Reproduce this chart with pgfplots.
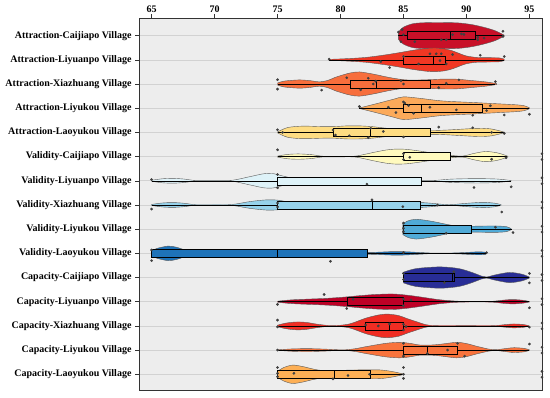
\documentclass[border=0pt]{standalone}
\usepackage{fontspec}
\setmainfont{Liberation Serif}
\usepackage{pgfplots}
\pgfplotsset{compat=1.18}
\usepgfplotslibrary{fillbetween,statistics}
\definecolor{c0}{RGB}{200,16,40}
\definecolor{c1}{RGB}{240,55,35}
\definecolor{c2}{RGB}{247,110,60}
\definecolor{c3}{RGB}{252,170,90}
\definecolor{c4}{RGB}{254,220,130}
\definecolor{c5}{RGB}{255,250,190}
\definecolor{c6}{RGB}{222,242,248}
\definecolor{c7}{RGB}{150,210,235}
\definecolor{c8}{RGB}{80,170,215}
\definecolor{c9}{RGB}{30,115,185}
\definecolor{c10}{RGB}{40,45,150}
\definecolor{c11}{RGB}{190,0,38}
\definecolor{c12}{RGB}{240,45,35}
\definecolor{c13}{RGB}{248,115,60}
\definecolor{c14}{RGB}{253,175,85}
\newcommand{\violin}[3]{%
 \addplot[draw=none, smooth, name path=u#1] table[x=v, y expr={#1+\thisrow{w}}, row sep=\\] {#3};
 \addplot[draw=none, smooth, name path=l#1] table[x=v, y expr={#1-\thisrow{w}}, row sep=\\] {#3};
 \addplot[fill=#2, draw=gray!70!black, line width=0.4pt] fill between[of=u#1 and l#1];
}
\newcommand{\bx}[7]{%
 \addplot[fill=#2, draw=black, line width=0.5pt, boxplot prepared={draw position=#1, lower whisker=#3, lower quartile=#4, median=#5, upper quartile=#6, upper whisker=#7, box extend=0.33, whisker extend=0}] coordinates {};
}
\begin{document}
\begin{tikzpicture}
\begin{axis}[
 width=403pt, height=372pt, scale only axis,
 xmin=64, xmax=96, ymin=0.35, ymax=15.73,
 xtick={65,70,75,80,85,90,95},
 xtick pos=right, xticklabel pos=right,
 ytick={1,...,15}, ytick pos=left,
 yticklabels={Capacity-Laoyukou Village,Capacity-Liyukou Village,Capacity-Xiazhuang Village,Capacity-Liyuanpo Village,Capacity-Caijiapo Village,Validity-Laoyukou Village,Validity-Liyukou Village,Validity-Xiazhuang Village,Validity-Liyuanpo Village,Validity-Caijiapo Village,Attraction-Laoyukou Village,Attraction-Liyukou Village,Attraction-Xiazhuang Village,Attraction-Liyuanpo Village,Attraction-Caijiapo Village},
 tick align=outside, major tick length=4pt,
 xticklabel style={inner sep=1pt},
 tick style={draw=black!80, line width=0.5pt},
 tick label style={font=\bfseries\fontsize{10}{12}\selectfont},
 /pgf/number format/assume math mode=true,
 ymajorgrids, grid style={draw=gray!35, line width=0.6pt},
 axis background/.style={fill=black!7},
 axis line style={draw=black!80, line width=0.6pt},
 boxplot/draw direction=x,
 clip=false,
]
% ---------------- violins ----------------
\violin{15}{c0}{v w\\ 84.6 0.15\\ 85.0 0.35\\ 85.8 0.50\\ 87.0 0.54\\ 88.5 0.54\\ 89.5 0.52\\ 90.5 0.45\\ 91.5 0.33\\ 92.3 0.2\\ 93.0 0.02\\}
\violin{14}{c1}{v w\\ 79.1 0.02\\ 80.5 0.05\\ 82.0 0.1\\ 83.5 0.2\\ 84.7 0.3\\ 85.8 0.4\\ 86.8 0.47\\ 87.5 0.49\\ 88.3 0.45\\ 88.9 0.37\\ 89.5 0.25\\ 90.0 0.16\\ 90.8 0.1\\ 91.8 0.09\\ 92.6 0.08\\ 93.0 0.03\\}
\violin{13}{c2}{v w\\ 75.0 0.04\\ 75.5 0.12\\ 76.7 0.17\\ 77.6 0.14\\ 78.3 0.09\\ 79.0 0.15\\ 79.6 0.28\\ 80.7 0.45\\ 81.5 0.5\\ 82.6 0.41\\ 83.5 0.31\\ 84.2 0.24\\ 85.2 0.17\\ 86.5 0.17\\ 87.9 0.2\\ 89.2 0.2\\ 90.5 0.14\\ 91.5 0.09\\ 92.4 0.02\\}
\violin{12}{c3}{v w\\ 81.5 0.01\\ 82.8 0.18\\ 84.2 0.37\\ 85.0 0.47\\ 86.3 0.41\\ 88.1 0.3\\ 90.8 0.23\\ 92.6 0.18\\ 94.0 0.14\\ 94.6 0.1\\ 95.0 0.02\\}
\violin{11}{c4}{v w\\ 75.0 0.02\\ 75.8 0.2\\ 77.0 0.26\\ 78.5 0.24\\ 79.5 0.24\\ 80.5 0.27\\ 81.5 0.27\\ 82.5 0.24\\ 83.5 0.18\\ 84.5 0.13\\ 85.5 0.09\\ 86.5 0.08\\ 87.5 0.08\\ 88.5 0.1\\ 89.5 0.13\\ 90.5 0.16\\ 91.3 0.17\\ 92.0 0.14\\ 92.6 0.07\\ 93.0 0.01\\}
\violin{10}{c5}{v w\\ 75.0 0.02\\ 75.8 0.09\\ 76.7 0.11\\ 77.7 0.08\\ 78.6 0.015\\ 80.0 0.01\\ 81.2 0.02\\ 82.6 0.17\\ 83.6 0.27\\ 84.4 0.31\\ 85.2 0.3\\ 86.0 0.25\\ 87.3 0.15\\ 88.6 0.06\\ 89.7 0.02\\ 90.5 0.12\\ 91.5 0.21\\ 92.4 0.16\\ 93.0 0.07\\ 93.3 0.01\\}
\violin{9}{c6}{v w\\ 65.0 0.02\\ 65.8 0.08\\ 66.7 0.1\\ 67.6 0.07\\ 68.5 0.01\\ 70.0 0.01\\ 71.4 0.02\\ 72.8 0.17\\ 73.9 0.29\\ 74.6 0.3\\ 75.4 0.2\\ 76.5 0.08\\ 78.0 0.02\\ 80.0 0.01\\ 85.0 0.01\\ 87.3 0.01\\ 88.5 0.06\\ 89.5 0.08\\ 91.0 0.09\\ 92.5 0.07\\ 93.55 0.01\\}
\violin{8}{c7}{v w\\ 65.0 0.02\\ 65.8 0.08\\ 66.7 0.1\\ 67.6 0.07\\ 68.5 0.01\\ 70.0 0.01\\ 71.4 0.02\\ 72.8 0.14\\ 74.1 0.21\\ 75.0 0.2\\ 76.0 0.12\\ 78.0 0.06\\ 82.0 0.08\\ 86.0 0.1\\ 87.0 0.08\\ 88.6 0.01\\ 89.8 0.06\\ 91.3 0.11\\ 92.3 0.07\\ 92.75 0.01\\}
\violin{7}{c8}{v w\\ 84.95 0.22\\ 85.3 0.33\\ 86.0 0.41\\ 87.3 0.32\\ 88.6 0.18\\ 89.5 0.12\\ 90.4 0.12\\ 91.5 0.13\\ 92.5 0.13\\ 93.2 0.1\\ 93.55 0.02\\}
\violin{6}{c9}{v w\\ 65.0 0.08\\ 65.4 0.2\\ 66.3 0.3\\ 67.0 0.25\\ 67.8 0.12\\ 69.0 0.05\\ 72.0 0.03\\ 76.0 0.03\\ 80.0 0.03\\ 82.5 0.04\\ 84.0 0.07\\ 85.0 0.07\\ 86.5 0.03\\ 87.3 0.01\\ 88.5 0.01\\ 89.7 0.03\\ 90.8 0.06\\ 91.5 0.05\\ 91.6 0.01\\}
\violin{5}{c10}{v w\\ 85.0 0.22\\ 86.0 0.37\\ 87.9 0.44\\ 89.4 0.37\\ 90.5 0.2\\ 91.2 0.06\\ 91.6 0.02\\ 92.2 0.1\\ 93.4 0.21\\ 94.4 0.14\\ 95.0 0.02\\}
\violin{4}{c11}{v w\\ 75.0 0.02\\ 76.2 0.08\\ 78.9 0.14\\ 80.5 0.2\\ 81.5 0.25\\ 82.8 0.3\\ 84.15 0.32\\ 85.3 0.27\\ 86.3 0.2\\ 87.9 0.08\\ 89.4 0.02\\ 91.0 0.01\\ 92.1 0.02\\ 93.0 0.07\\ 93.7 0.09\\ 94.5 0.06\\ 95.0 0.01\\}
\violin{3}{c12}{v w\\ 75.0 0.03\\ 75.6 0.11\\ 76.4 0.16\\ 77.2 0.15\\ 78.3 0.06\\ 79.4 0.01\\ 80.7 0.08\\ 82.0 0.32\\ 83.0 0.45\\ 83.7 0.49\\ 84.6 0.43\\ 85.3 0.3\\ 86.0 0.18\\ 86.8 0.05\\ 87.6 0.01\\ 90.0 0.01\\ 92.1 0.01\\ 93.0 0.05\\ 93.7 0.08\\ 94.5 0.06\\ 94.95 0.01\\}
\violin{2}{c13}{v w\\ 75.0 0.01\\ 76.2 0.05\\ 77.5 0.06\\ 78.8 0.04\\ 80.2 0.01\\ 81.2 0.06\\ 82.0 0.14\\ 83.6 0.28\\ 84.7 0.32\\ 85.5 0.28\\ 86.3 0.21\\ 87.2 0.21\\ 87.9 0.24\\ 89.2 0.32\\ 90.0 0.27\\ 90.8 0.16\\ 91.8 0.04\\ 92.4 0.02\\ 93.2 0.07\\ 93.8 0.1\\ 94.6 0.07\\ 95.0 0.01\\}
\violin{1}{c14}{v w\\ 75.0 0.12\\ 75.5 0.28\\ 76.2 0.38\\ 77.0 0.32\\ 77.8 0.22\\ 78.6 0.15\\ 79.7 0.15\\ 80.5 0.17\\ 81.5 0.18\\ 83.1 0.18\\ 84.15 0.11\\ 85.0 0.01\\}
% ---------------- boxes ----------------
\bx{15}{c0}{84.6}{85.3}{88.7}{90.7}{93.0}
\bx{14}{c1}{79.1}{85.0}{87.33}{88.33}{93.0}
\bx{13}{c2}{75.0}{80.8}{82.8}{87.1}{92.3}
\bx{12}{c3}{81.5}{85.0}{86.45}{91.25}{95.0}
\bx{11}{c4}{75.0}{79.4}{82.36}{87.1}{93.0}
\bx{10}{c5}{75.0}{85.0}{85.0}{88.7}{93.2}
\bx{9}{c6}{65.0}{75.0}{75.0}{86.4}{93.5}
\bx{8}{c7}{65.0}{75.0}{82.5}{86.35}{92.7}
\bx{7}{c8}{85.0}{85.0}{85.0}{90.4}{93.6}
\bx{6}{c9}{65.0}{65.0}{75.0}{82.1}{91.6}
\bx{5}{c10}{85.0}{85.0}{88.9}{89.0}{95.0}
\bx{4}{c11}{75.0}{80.5}{84.95}{85.0}{95.0}
\bx{3}{c12}{75.0}{82.0}{83.9}{85.0}{95.0}
\bx{2}{c13}{75.0}{85.0}{86.9}{89.3}{95.0}
\bx{1}{c14}{75.0}{75.0}{79.5}{82.4}{85.0}
% ---------------- points ----------------
\addplot[only marks, mark=*, mark size=1.15pt, color=black!75] coordinates {
(84.6,15.15) (84.8,14.75) (84.9,15.25) (85.0,15.04) (85.9,14.75) (88.0,14.83) (88.4,14.83) (88.9,15.04) (89.6,15.07) (89.8,15.05) (90.9,14.83) (90.9,14.93) (91.4,14.9) (92.9,15.18) (92.9,14.97)
(79.1,14.03) (83.2,13.93) (83.9,13.68) (85.0,14.14) (86.2,13.83) (87.1,14.25) (87.6,14.25) (88.0,14.25) (87.9,13.97) (88.4,13.83) (88.9,14.22) (91.1,14.19) (93.0,14.14)
(75.0,13.18) (75.0,12.79) (78.5,12.75) (80.5,13.26) (81.6,12.76) (82.2,13.24) (82.6,13.0) (82.8,13.12) (84.8,13.14) (85.0,13.0) (87.8,12.85) (88.4,13.03) (89.4,13.17) (92.3,13.1)
(81.5,12.07) (83.8,12.04) (84.4,11.82) (85.0,12.26) (85.1,12.21) (85.4,12.11) (85.8,11.79) (87.1,12.04) (89.2,11.93) (90.5,11.71) (91.6,11.9) (91.9,12.1) (93.0,11.72) (95.0,11.75)
(75.0,11.11) (75.4,11.0) (79.6,10.89) (79.4,11.1) (80.7,10.86) (82.4,11.17) (82.2,10.78) (83.4,11.04) (85.0,10.81) (87.8,11.22) (90.5,11.19) (92.0,11.0) (93.0,10.96)
(75.0,10.28) (85.0,10.12) (85.0,9.88) (85.5,9.97) (92.0,9.89) (93.15,9.95)
(65.0,9.05) (75.0,9.26) (75.0,8.71) (82.1,8.86) (90.6,8.72) (93.55,8.75)
(65.0,7.83) (75.0,8.08) (75.0,7.92) (82.5,8.21) (84.95,7.93) (87.7,8.0) (92.8,7.71)
(85.0,7.25) (85.0,7.04) (85.0,6.89) (88.4,6.83) (92.3,7.08) (93.7,6.86)
(65.0,6.14) (65.0,5.7) (79.2,5.67) (85.0,6.03) (91.6,6.03)
(85.0,5.17) (85.0,4.92) (89.0,5.24) (88.25,4.79) (95.0,5.17) (95.0,4.78)
(75.0,3.89) (78.7,4.3) (80.5,3.72) (81.0,4.1) (85.0,4.11) (85.0,3.83) (85.6,4.07) (95.0,3.75)
(75.0,3.24) (75.0,2.96) (82.0,3.04) (83.0,3.0) (83.9,3.08) (85.0,3.07) (85.0,2.83) (85.2,2.97) (95.0,2.95)
(75.0,2.0) (85.0,2.28) (85.0,1.75) (86.9,1.86) (88.5,2.0) (89.3,2.28) (89.85,1.75) (95.0,2.25)
(75.0,1.28) (75.0,1.04) (75.0,0.9) (76.3,1.04) (79.4,0.81) (80.6,0.95) (82.3,1.0) (85.0,1.28) (85.0,1.0) (85.0,0.83)
};
% points on the right border
\addplot[only marks, mark=*, mark size=1.15pt, color=black!75] coordinates {
(96,10.12) (96,9.88) (96,9.12) (96,8.88) (96,8.12) (96,7.88) (96,7.12) (96,6.88) (96,6.12) (96,5.88)
(96,5.12) (96,4.88) (96,4.12) (96,3.88) (96,3.12) (96,2.88) (96,2.12) (96,1.88) (96,1.12) (96,0.88)
};
\end{axis}
\pgfresetboundingbox
\path ([shift={(-139pt,-7pt)}]current axis.south west) rectangle ([shift={(8pt,18pt)}]current axis.north east);
\end{tikzpicture}
\end{document}
